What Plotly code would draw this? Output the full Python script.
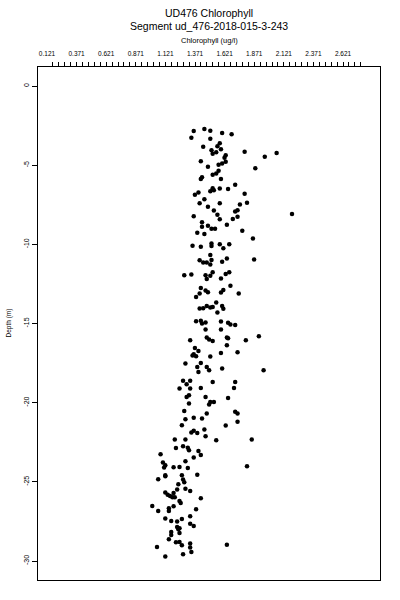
import numpy as np
import plotly.graph_objects as go

# Chlorophyll (ug/l) and depth (m)
chlorophyll = [
    1.36, 1.45, 1.50, 1.60, 1.68, 1.34, 1.50, 1.58, 1.44, 1.56,
    1.59, 1.51, 1.55, 1.52, 1.79, 2.06, 1.96, 1.63, 1.62, 1.42,
    1.63, 1.60, 1.57, 1.48, 1.88, 1.57, 1.55, 1.52, 1.43, 1.42,
    1.59, 1.71, 1.52, 1.50, 1.53, 1.58, 1.65, 1.40, 1.37, 1.79,
    1.45, 1.41, 1.58, 1.75, 1.81, 1.48, 1.53, 1.73, 1.71, 1.56,
    1.36, 2.19, 1.73, 1.58, 1.69, 1.43, 1.43, 1.48, 1.64, 1.51,
    1.54, 1.39, 1.45, 1.77, 1.86, 1.35, 1.42, 1.51, 1.51, 1.58,
    1.61, 1.66, 1.50, 1.41, 1.44, 1.47, 1.50, 1.51, 1.60, 1.64,
    1.87, 1.28, 1.34, 1.46, 1.47, 1.50, 1.52, 1.59, 1.63, 1.66,
    1.67, 1.42, 1.46, 1.48, 1.41, 1.38, 1.59, 1.61, 1.74, 1.55,
    1.41, 1.44, 1.47, 1.50, 1.52, 1.60, 1.61, 1.56, 1.38, 1.42,
    1.43, 1.46, 1.59, 1.65, 1.67, 1.71, 1.46, 1.59, 1.33, 1.47,
    1.49, 1.52, 1.64, 1.65, 1.80, 1.91, 1.64, 1.37, 1.40, 1.36,
    1.38, 1.35, 1.50, 1.59, 1.73, 1.29, 1.42, 1.39, 1.40, 1.47,
    1.49, 1.60, 1.95, 1.27, 1.30, 1.33, 1.24, 1.33, 1.42, 1.52,
    1.71, 1.70, 1.30, 1.32, 1.46, 1.65, 1.50, 1.53, 1.49, 1.32,
    1.28, 1.47, 1.71, 1.73, 1.29, 1.36, 1.43, 1.26, 1.73, 1.63,
    1.45, 1.34, 1.36, 1.39, 1.46, 1.20, 1.29, 1.55, 1.85, 1.21,
    1.27, 1.31, 1.32, 1.40, 1.42, 1.08, 1.36, 1.29, 1.10, 1.12,
    1.11, 1.19, 1.24, 1.31, 1.81, 1.12, 1.12, 1.26, 1.39, 1.06,
    1.27, 1.28, 1.23, 1.29, 1.22, 1.33, 1.12, 1.14, 1.16, 1.18,
    1.20, 1.19, 1.24, 1.25, 1.42, 1.01, 1.06, 1.15, 1.15, 1.19,
    1.38, 1.33, 1.12, 1.17, 1.22, 1.26, 1.33, 1.36, 1.22, 1.23,
    1.24, 1.24, 1.17, 1.17, 1.15, 1.21, 1.24, 1.26, 1.33, 1.33,
    1.64, 1.05, 1.27, 1.34, 1.12,
]
depth = [
    -2.84, -2.72, -2.82, -2.97, -3.05, -3.27, -3.33, -3.62, -3.84, -3.81,
    -4.00, -4.06, -4.19, -4.28, -4.15, -4.23, -4.47, -4.38, -4.53, -4.76,
    -4.78, -4.89, -4.97, -5.10, -5.20, -5.35, -5.52, -5.61, -5.77, -5.88,
    -5.88, -6.24, -6.45, -6.64, -6.59, -6.47, -6.51, -6.72, -6.87, -6.81,
    -7.16, -7.41, -7.41, -7.48, -7.37, -7.63, -7.86, -7.84, -7.92, -8.13,
    -8.22, -8.09, -8.26, -8.42, -8.40, -8.61, -8.89, -8.83, -8.77, -9.02,
    -9.02, -9.27, -9.35, -9.14, -9.63, -10.09, -10.16, -9.94, -10.11, -10.00,
    -10.25, -10.00, -10.68, -11.00, -11.14, -11.14, -11.27, -10.99, -11.10, -10.89,
    -10.95, -11.96, -11.90, -11.96, -12.19, -11.99, -11.77, -12.15, -11.88, -11.77,
    -12.62, -12.75, -12.91, -13.02, -13.10, -13.32, -13.04, -12.89, -13.10, -13.67,
    -14.05, -14.03, -13.90, -13.99, -13.95, -13.90, -14.07, -14.30, -14.85, -14.83,
    -15.00, -14.93, -14.87, -14.96, -15.06, -15.10, -15.38, -15.38, -16.05, -15.88,
    -16.01, -16.10, -15.88, -15.93, -16.05, -15.80, -16.37, -16.54, -16.73, -16.94,
    -17.07, -17.02, -17.08, -16.87, -16.81, -17.52, -17.49, -17.74, -18.06, -17.74,
    -17.95, -17.84, -17.95, -18.62, -18.83, -18.62, -19.10, -19.10, -19.07, -18.69,
    -18.69, -19.07, -19.64, -19.53, -19.64, -19.70, -19.95, -19.95, -20.12, -20.05,
    -20.52, -20.68, -20.58, -20.68, -21.04, -20.96, -21.00, -21.42, -21.21, -21.44,
    -21.70, -21.89, -21.78, -21.91, -22.12, -22.33, -22.33, -22.37, -22.33, -22.86,
    -22.75, -22.84, -23.01, -23.05, -23.30, -23.26, -23.47, -23.70, -23.78, -23.95,
    -24.10, -24.08, -24.06, -24.12, -24.02, -24.58, -24.65, -24.58, -24.56, -24.84,
    -24.86, -25.03, -25.15, -25.43, -25.49, -25.58, -25.68, -25.81, -25.89, -25.98,
    -25.98, -25.70, -26.21, -26.34, -26.04, -26.53, -26.84, -26.67, -26.84, -26.54,
    -26.73, -27.18, -27.32, -27.47, -27.51, -27.35, -27.64, -27.79, -27.85, -28.00,
    -27.93, -28.23, -28.17, -28.36, -28.63, -28.82, -28.80, -29.01, -28.90, -29.14,
    -28.97, -29.12, -29.58, -29.43, -29.72,
]

x_tick_values = [0.121, 0.371, 0.621, 0.871, 1.121, 1.371, 1.621, 1.871, 2.121, 2.371, 2.621]
x_tick_labels = ["0.121", "0.371", "0.621", "0.871", "1.121", "1.371", "1.621", "1.871", "2.121", "2.371", "2.621"]
y_tick_values = [0, -5, -10, -15, -20, -25, -30]
y_tick_labels = ["0", "-5", "-10", "-15", "-20", "-25", "-30"]

title_line1 = "UD476 Chlorophyll"
title_line2 = "Segment ud_476-2018-015-3-243"
x_title = "Chlorophyll (ug/l)"
y_title = "Depth (m)"

FONT = "Liberation Sans, Arial, sans-serif"
XRANGE = [0.045, 2.933]
YRANGE = [-31.2, 1.2]

fig = go.Figure()
fig.add_trace(go.Scatter(
    x=chlorophyll, y=depth, mode="markers",
    marker=dict(symbol="circle", size=4.5, color="black", line=dict(width=0)),
    showlegend=False, hoverinfo="skip",
))
# empty trace to activate the tick-only overlay axis
fig.add_trace(go.Scatter(x=[None], y=[None], xaxis="x2", yaxis="y", showlegend=False))

minor_ticks = list(np.round(np.arange(0.171, 2.78, 0.05), 3))

fig.update_layout(
    width=400, height=600,
    margin=dict(l=38, r=20, t=67, b=20, autoexpand=False),
    paper_bgcolor="white", plot_bgcolor="white",
    font=dict(family=FONT, color="black"),
    hovermode=False,
    xaxis=dict(
        side="top", range=XRANGE, tickvals=x_tick_values, ticktext=x_tick_labels,
        ticks="outside", ticklen=7, tickcolor="rgba(0,0,0,0)", automargin=False,
        tickfont=dict(size=6.5, family=FONT), showgrid=False, zeroline=False,
        showline=True, linecolor="black", linewidth=1, mirror=True,
    ),
    xaxis2=dict(
        overlaying="x", side="top", range=XRANGE, tickvals=minor_ticks, automargin=False,
        showticklabels=False, ticks="outside", ticklen=4, tickwidth=1, tickcolor="black",
        showgrid=False, zeroline=False, showline=False,
    ),
    yaxis=dict(
        range=YRANGE, tickvals=y_tick_values, ticktext=y_tick_labels, automargin=False,
        ticks="outside", ticklen=5, tickwidth=1, tickcolor="black", tickangle=-90,
        tickfont=dict(size=7, family=FONT), showgrid=False, zeroline=False,
        showline=True, linecolor="black", linewidth=1, mirror=True,
    ),
    annotations=[
        dict(text=title_line1, xref="paper", yref="paper", x=0.5, y=(580 - 13) / 513,
             showarrow=False, font=dict(size=10.5, family=FONT), xanchor="center", yanchor="middle"),
        dict(text=title_line2, xref="paper", yref="paper", x=0.5, y=(580 - 26) / 513,
             showarrow=False, font=dict(size=10.5, family=FONT), xanchor="center", yanchor="middle"),
        dict(text=x_title, xref="paper", yref="paper", x=0.5, y=(580 - 40) / 513,
             showarrow=False, font=dict(size=7.5, family=FONT), xanchor="center", yanchor="middle"),
        dict(text=y_title, xref="paper", yref="paper", x=(8 - 38) / 342, y=0.5, textangle=-90,
             showarrow=False, font=dict(size=6.5, family=FONT), xanchor="center", yanchor="middle"),
    ],
)

# remove the default page margin so the figure sits at the top-left corner
fig.write_html(
    "out.html",
    config={"displayModeBar": False, "staticPlot": True},
    post_script="document.body.style.margin='0';",
)
